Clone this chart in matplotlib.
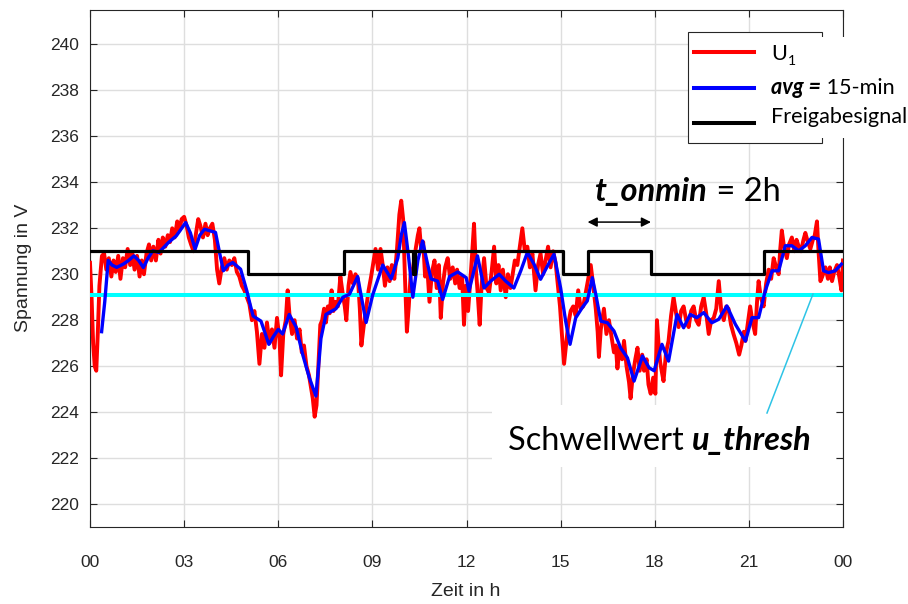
import matplotlib
matplotlib.use("Agg")
import matplotlib.pyplot as plt
from matplotlib.patches import Rectangle
from matplotlib.lines import Line2D
from matplotlib.transforms import IdentityTransform

# ---------------------------------------------------------------- data
# measured voltage U1 (time in h, voltage in V)
u1_t = [0.00, 0.05, 0.10, 0.15, 0.20, 0.25, 0.30, 0.38, 0.45, 0.52, 0.60, 0.68, 0.75, 0.82, 0.90, 0.97,
        1.05, 1.12, 1.20, 1.28, 1.35, 1.42, 1.50, 1.58, 1.65, 1.72, 1.80, 1.88, 1.95, 2.02, 2.10, 2.18,
        2.25, 2.32, 2.40, 2.48, 2.55, 2.62, 2.70, 2.78, 2.85, 2.92, 3.00, 3.08, 3.15, 3.22, 3.30, 3.38,
        3.45, 3.52, 3.60, 3.68, 3.75, 3.82, 3.90, 3.98, 4.05, 4.12, 4.20, 4.28, 4.36, 4.44, 4.52, 4.60,
        4.68, 4.76, 4.84, 4.92, 5.00, 5.08, 5.16, 5.24, 5.32, 5.40, 5.48, 5.56, 5.64, 5.72, 5.80, 5.88,
        5.96, 6.04, 6.09, 6.16, 6.24, 6.30, 6.36, 6.44, 6.52, 6.60, 6.68, 6.75, 6.82, 6.90, 6.98, 7.05,
        7.10, 7.16, 7.22, 7.28, 7.34, 7.40, 7.46, 7.52, 7.58, 7.64, 7.70, 7.76, 7.82, 7.90, 7.98, 8.05,
        8.12, 8.17, 8.24, 8.30, 8.38, 8.46, 8.54, 8.60, 8.65, 8.72, 8.80, 8.88, 8.96, 9.04, 9.10, 9.18,
        9.26, 9.33, 9.40, 9.48, 9.55, 9.62, 9.70, 9.78, 9.86, 9.92, 9.98, 10.04, 10.10, 10.16, 10.22, 10.30,
        10.38, 10.45, 10.50, 10.56, 10.62, 10.68, 10.75, 10.82, 10.90, 10.98, 11.05, 11.12, 11.18, 11.25, 11.32, 11.40,
        11.48, 11.56, 11.64, 11.70, 11.78, 11.86, 11.92, 11.98, 12.05, 12.12, 12.18, 12.24, 12.30, 12.36, 12.42, 12.48,
        12.56, 12.64, 12.72, 12.80, 12.88, 12.95, 13.02, 13.09, 13.16, 13.25, 13.32, 13.40, 13.46, 13.54, 13.62, 13.70,
        13.78, 13.86, 13.94, 14.02, 14.10, 14.20, 14.28, 14.36, 14.44, 14.52, 14.60, 14.68, 14.76, 14.84, 14.92, 14.98,
        15.04, 15.11, 15.18, 15.24, 15.32, 15.40, 15.48, 15.56, 15.64, 15.72, 15.80, 15.88, 15.96, 16.04, 16.12, 16.18,
        16.22, 16.28, 16.38, 16.46, 16.54, 16.62, 16.70, 16.76, 16.81, 16.88, 16.96, 17.02, 17.10, 17.18, 17.23, 17.30,
        17.38, 17.45, 17.52, 17.60, 17.66, 17.74, 17.80, 17.87, 17.95, 18.02, 18.07, 18.12, 18.17, 18.22, 18.28, 18.36,
        18.44, 18.52, 18.60, 18.68, 18.76, 18.84, 18.92, 19.00, 19.08, 19.16, 19.24, 19.32, 19.40, 19.48, 19.56, 19.64,
        19.72, 19.80, 19.88, 19.96, 20.04, 20.12, 20.20, 20.28, 20.35, 20.43, 20.51, 20.60, 20.69, 20.76, 20.84, 20.89,
        20.96, 21.04, 21.12, 21.20, 21.26, 21.31, 21.38, 21.47, 21.55, 21.63, 21.71, 21.79, 21.87, 21.95, 22.00, 22.05,
        22.12, 22.21, 22.28, 22.37, 22.45, 22.52, 22.59, 22.66, 22.74, 22.80, 22.88, 22.96, 23.04, 23.10, 23.17, 23.22,
        23.28, 23.34, 23.44, 23.52, 23.58, 23.65, 23.72, 23.81, 23.88, 23.95, 24.00]
u1_v = [230.5, 229.0, 227.0, 226.0, 225.8, 227.5, 229.5, 230.8, 230.9, 230.2, 230.7, 229.9, 230.6, 230.1, 230.8, 229.8,
        230.7, 230.3, 231.1, 230.4, 230.9, 230.2, 230.8, 229.9, 230.6, 230.0, 230.9, 231.3, 230.6, 231.2, 230.6, 231.5,
        230.9, 231.6, 231.2, 231.7, 231.4, 232.0, 231.6, 232.3, 231.9, 232.4, 232.5, 232.1, 231.6, 231.3, 231.0, 231.8,
        232.4, 232.1, 231.6, 232.2, 231.7, 232.0, 232.2, 231.5, 230.2, 229.6, 230.3, 230.7, 230.2, 230.6, 230.4, 230.7,
        230.1, 229.9, 229.5, 229.3, 229.0, 228.7, 228.0, 228.4, 227.5, 226.1, 227.4, 226.8, 227.9, 227.0, 227.6, 226.8,
        228.1, 227.2, 225.6, 227.4, 228.0, 229.3, 228.2, 227.4, 228.0, 227.2, 227.6, 226.6, 226.9, 226.0, 225.6, 225.0,
        224.6, 223.8, 224.3, 226.0, 227.8, 228.0, 228.5, 227.9, 228.6, 228.3, 229.3, 228.4, 228.8, 228.6, 229.9, 229.2,
        228.6, 228.0, 229.5, 230.1, 229.6, 230.0, 229.8, 228.5, 226.9, 227.7, 228.5, 229.3, 229.9, 230.6, 231.1, 230.2,
        231.1, 230.4, 229.5, 230.3, 229.7, 230.4, 229.8, 231.0, 232.6, 233.2, 232.4, 229.8, 227.5, 228.6, 230.0, 230.3,
        231.1, 231.7, 232.0, 231.0, 231.4, 229.9, 230.3, 228.8, 230.1, 230.6, 229.4, 230.4, 228.1, 229.6, 230.3, 230.7,
        229.8, 230.3, 229.6, 230.2, 229.4, 229.9, 227.8, 229.5, 228.4, 229.7, 230.9, 232.2, 230.2, 229.1, 227.8, 229.5,
        230.7, 229.4, 229.2, 230.1, 231.2, 229.6, 230.4, 229.3, 230.2, 229.0, 230.0, 229.4, 229.9, 230.6, 230.4, 231.2,
        232.0, 231.0, 231.2, 230.3, 230.9, 229.3, 230.4, 230.9, 230.0, 230.6, 231.2, 230.3, 231.0, 230.5, 229.4, 228.6,
        227.4, 226.1, 227.0, 227.8, 228.4, 228.6, 228.2, 229.3, 228.5, 228.6, 229.2, 229.8, 230.4, 229.5, 228.5, 227.5,
        226.4, 227.6, 228.5, 227.4, 228.0, 227.3, 226.6, 226.9, 225.9, 226.8, 226.3, 227.1, 226.0, 225.3, 224.6, 225.6,
        226.3, 226.8, 225.8, 226.5, 225.8, 226.3, 225.2, 224.8, 225.5, 224.8, 228.0, 227.0, 226.2, 225.8, 225.35, 226.6,
        227.1, 228.2, 229.0, 228.3, 227.7, 228.4, 228.6, 228.0, 227.7, 228.4, 228.6, 228.0, 227.8, 228.6, 229.0, 228.3,
        227.4, 228.0, 228.1, 228.5, 229.7, 228.4, 228.0, 228.6, 228.5, 227.8, 227.4, 227.0, 226.5, 226.9, 227.5, 227.1,
        227.8, 228.6, 227.9, 227.4, 228.8, 229.7, 229.0, 228.6, 229.6, 230.2, 229.8, 230.7, 230.3, 230.0, 231.1, 231.9,
        231.2, 230.7, 231.3, 231.6, 231.0, 231.5, 231.2, 231.0, 231.5, 231.8, 231.4, 231.1, 231.5, 231.7, 232.3, 231.0,
        229.7, 229.9, 230.3, 229.8, 230.3, 229.7, 230.1, 230.4, 229.9, 229.3, 230.6]

# 15-minute average
avg_t = [0.37, 0.47, 0.58, 0.70, 0.85, 1.06, 1.23, 1.40, 1.55, 1.70, 1.85, 2.00, 2.20, 2.50, 2.75, 3.05,
         3.20, 3.35, 3.50, 3.65, 4.00, 4.12, 4.25, 4.40, 4.55, 4.80, 5.00, 5.10, 5.20, 5.45, 5.70, 5.85,
         6.00, 6.14, 6.35, 6.57, 6.78, 6.99, 7.20, 7.28, 7.36, 7.52, 7.84, 8.06, 8.27, 8.53, 8.80, 9.01,
         9.33, 9.60, 9.81, 9.92, 10.02, 10.15, 10.29, 10.45, 10.60, 10.75, 10.87, 11.08, 11.24, 11.46, 11.72, 11.99,
         12.08, 12.35, 12.56, 12.77, 13.04, 13.25, 13.51, 13.73, 13.94, 14.15, 14.36, 14.58, 14.79, 15.00, 15.16, 15.30,
         15.48, 15.69, 15.85, 16.01, 16.12, 16.28, 16.49, 16.70, 16.91, 17.13, 17.34, 17.61, 17.82, 17.98, 18.23, 18.44,
         18.71, 18.92, 19.13, 19.34, 19.56, 19.82, 20.04, 20.30, 20.57, 20.89, 21.10, 21.31, 21.52, 21.74, 21.95, 22.16,
         22.37, 22.59, 22.80, 23.01, 23.22, 23.38, 23.54, 23.75, 23.95]
avg_v = [227.5, 228.8, 230.6, 230.4, 230.3, 230.44, 230.6, 230.8, 230.6, 230.29, 230.7, 231.02, 230.95, 231.38, 231.67, 232.25,
         231.8, 231.09, 231.7, 231.96, 231.82, 231.0, 230.15, 230.4, 230.51, 230.22, 229.27, 228.7, 228.18, 227.96, 226.95, 227.3,
         227.6, 227.4, 228.25, 227.7, 226.5, 225.5, 224.7, 225.9, 227.2, 228.25, 228.5, 229.0, 229.13, 229.9, 227.9, 229.1,
         230.4, 229.8, 230.7, 231.7, 232.25, 230.8, 229.0, 230.6, 231.45, 230.5, 229.8, 229.7, 228.9, 229.9, 230.1, 229.85,
         229.27, 230.8, 229.4, 229.7, 230.0, 229.7, 229.4, 230.15, 230.95, 230.44, 229.78, 230.36, 230.87, 229.4, 227.96, 226.95,
         228.1, 228.55, 228.84, 229.85, 229.13, 227.96, 227.89, 227.53, 226.8, 226.36, 225.35, 226.44, 225.93, 225.8, 226.95, 226.22,
         228.25, 227.67, 228.25, 228.11, 228.33, 227.89, 228.04, 228.62, 227.82, 227.09, 228.11, 228.11, 229.27, 230.15, 230.15, 231.24,
         231.24, 231.02, 231.24, 231.6, 231.53, 230.15, 230.07, 230.15, 230.44]

# release signal (switching instants in h, level in V)
sig_t = [0.0, 5.02, 8.10, 10.28, 10.35, 15.08, 15.86, 17.88, 21.47, 24.0]
sig_v = [231, 230, 231, 230, 231, 230, 231, 230, 231, 231]

u_thresh = 229.1
t_on_start, t_on_end = 15.86, 17.88

x_ticks = [0, 3, 6, 9, 12, 15, 18, 21, 24]
x_ticklabels = ["00", "03", "06", "09", "12", "15", "18", "21", "00"]
y_ticks = [220, 222, 224, 226, 228, 230, 232, 234, 236, 238, 240]

# ---------------------------------------------------------------- figure
W, H = 908, 604
fig = plt.figure(figsize=(W / 100, H / 100), dpi=100)
fig.patch.set_facecolor("white")
ax = fig.add_axes([90 / W, (H - 527) / H, (843 - 90) / W, (527 - 10) / H])

GRAY = "#262626"
TICKFONT = ["Liberation Sans", "DejaVu Sans"]
NOTEFONT = ["Lato", "DejaVu Sans"]

ax.plot(u1_t, u1_v, color="#FF0000", lw=2.8, zorder=3, solid_joinstyle="round")
ax.axhline(u_thresh, color="#00FFFF", lw=2.9, zorder=4)
ax.plot(avg_t, avg_v, color="#0000FF", lw=2.4, zorder=5, solid_joinstyle="round")
ax.plot(sig_t, sig_v, drawstyle="steps-post", color="black", lw=2.3, zorder=6)

ax.set_xlim(0, 24)
ax.set_ylim(219, 241.5)
ax.set_xticks(x_ticks)
ax.set_xticklabels(x_ticklabels)
ax.set_yticks(y_ticks)
ax.grid(True, color="#DEDEDE", lw=1.0, zorder=0)
ax.set_axisbelow(True)
ax.tick_params(direction="in", length=5, width=0.8, colors=GRAY, labelsize=12.5,
               top=True, right=True, pad=8)
ax.tick_params(axis="x", pad=20)
for lab in ax.get_xticklabels() + ax.get_yticklabels():
    lab.set_family(TICKFONT)
for sp in ax.spines.values():
    sp.set_color(GRAY)
    sp.set_linewidth(0.8)

# axis labels
fig.text(466, H - 592, "Zeit in h", transform=IdentityTransform(), ha="center", va="center",
         fontsize=14, color=GRAY, family=TICKFONT)
fig.text(24, H - 268, "Spannung in V", transform=IdentityTransform(), ha="center", va="center",
         rotation=90, fontsize=14, color=GRAY, family=TICKFONT)

# double arrow for the minimum on-time
ax.annotate("", xy=(t_on_start, 232.27), xytext=(t_on_end, 232.27),
            arrowprops=dict(arrowstyle="<|-|>", color="black", lw=1.1, mutation_scale=14,
                            shrinkA=0, shrinkB=0), zorder=7)

renderer = fig.canvas.get_renderer()
ID = IdentityTransform()


def text_runs(x0, yc, parts, size, target_w=None, zorder=8):
    """Place consecutive text pieces with individual styles, optionally scaled to a width."""
    objs = []
    for s, weight, style in parts:
        objs.append(fig.text(0, 0, s, transform=ID, ha="left", va="baseline", fontsize=size,
                             fontweight=weight, fontstyle=style, family=NOTEFONT, color="black",
                             zorder=zorder))
    widths = [o.get_window_extent(renderer).width for o in objs]
    if target_w:
        k = target_w / sum(widths)
        for o in objs:
            o.set_fontsize(size * k)
        widths = [o.get_window_extent(renderer).width for o in objs]
    # vertical centring from the cap height of the first piece
    probe = fig.text(0, 0, "H", transform=ID, fontsize=objs[0].get_fontsize(), family=NOTEFONT,
                     va="baseline")
    cap = probe.get_window_extent(renderer).height
    probe.remove()
    yb = (H - yc) - cap * 0.40
    x = x0
    for o, w in zip(objs, widths):
        o.set_position((x, yb))
        x += w
    return objs


# legend
fig.add_artist(Rectangle((688, H - 143), 134, 111, transform=ID, facecolor="white",
                         edgecolor=GRAY, lw=0.8, zorder=1))
fig.add_artist(Rectangle((765, H - 138), 143, 101, transform=ID, facecolor="white",
                         edgecolor="none", zorder=2))
for yy, col, lw in [(52, "#FF0000", 2.9), (88, "#0000FF", 2.9), (123, "black", 2.9)]:
    fig.add_artist(Line2D([694, 754], [H - yy, H - yy], transform=ID, color=col, lw=lw, zorder=3))

leg_sig = text_runs(771, 115, [("Freigabesignal", "normal", "normal")], 14.5, target_w=136)
fs = leg_sig[0].get_fontsize()
text_runs(771, 86, [("avg =", "bold", "italic"), (" 15-min", "normal", "normal")], fs)
leg_u = text_runs(771, 52, [("U", "normal", "normal")], fs)
uw = leg_u[0].get_window_extent(renderer).width
ux, uy = leg_u[0].get_position()
fig.text(ux + uw + 1, uy - 5, "1", transform=ID, ha="left", va="baseline", fontsize=fs * 0.65,
         family=NOTEFONT, color="black", zorder=8)

# annotation: minimum on-time
text_runs(595, 189, [("t_onmin", "bold", "italic"), (" = 2h", "normal", "normal")], 20,
          target_w=185)

# annotation: threshold
fig.add_artist(Rectangle((492, H - 467), 344, 62, transform=ID, facecolor="white",
                         edgecolor="none", zorder=2))
text_runs(508, 438, [("Schwellwert ", "normal", "normal"), ("u_thresh", "bold", "italic")], 20,
          target_w=304)
fig.add_artist(Line2D([767, 813], [H - 413, H - 294], transform=ID, color="#2EC4E6", lw=1.1,
                      zorder=3))

fig.savefig("out.png", dpi=100)
